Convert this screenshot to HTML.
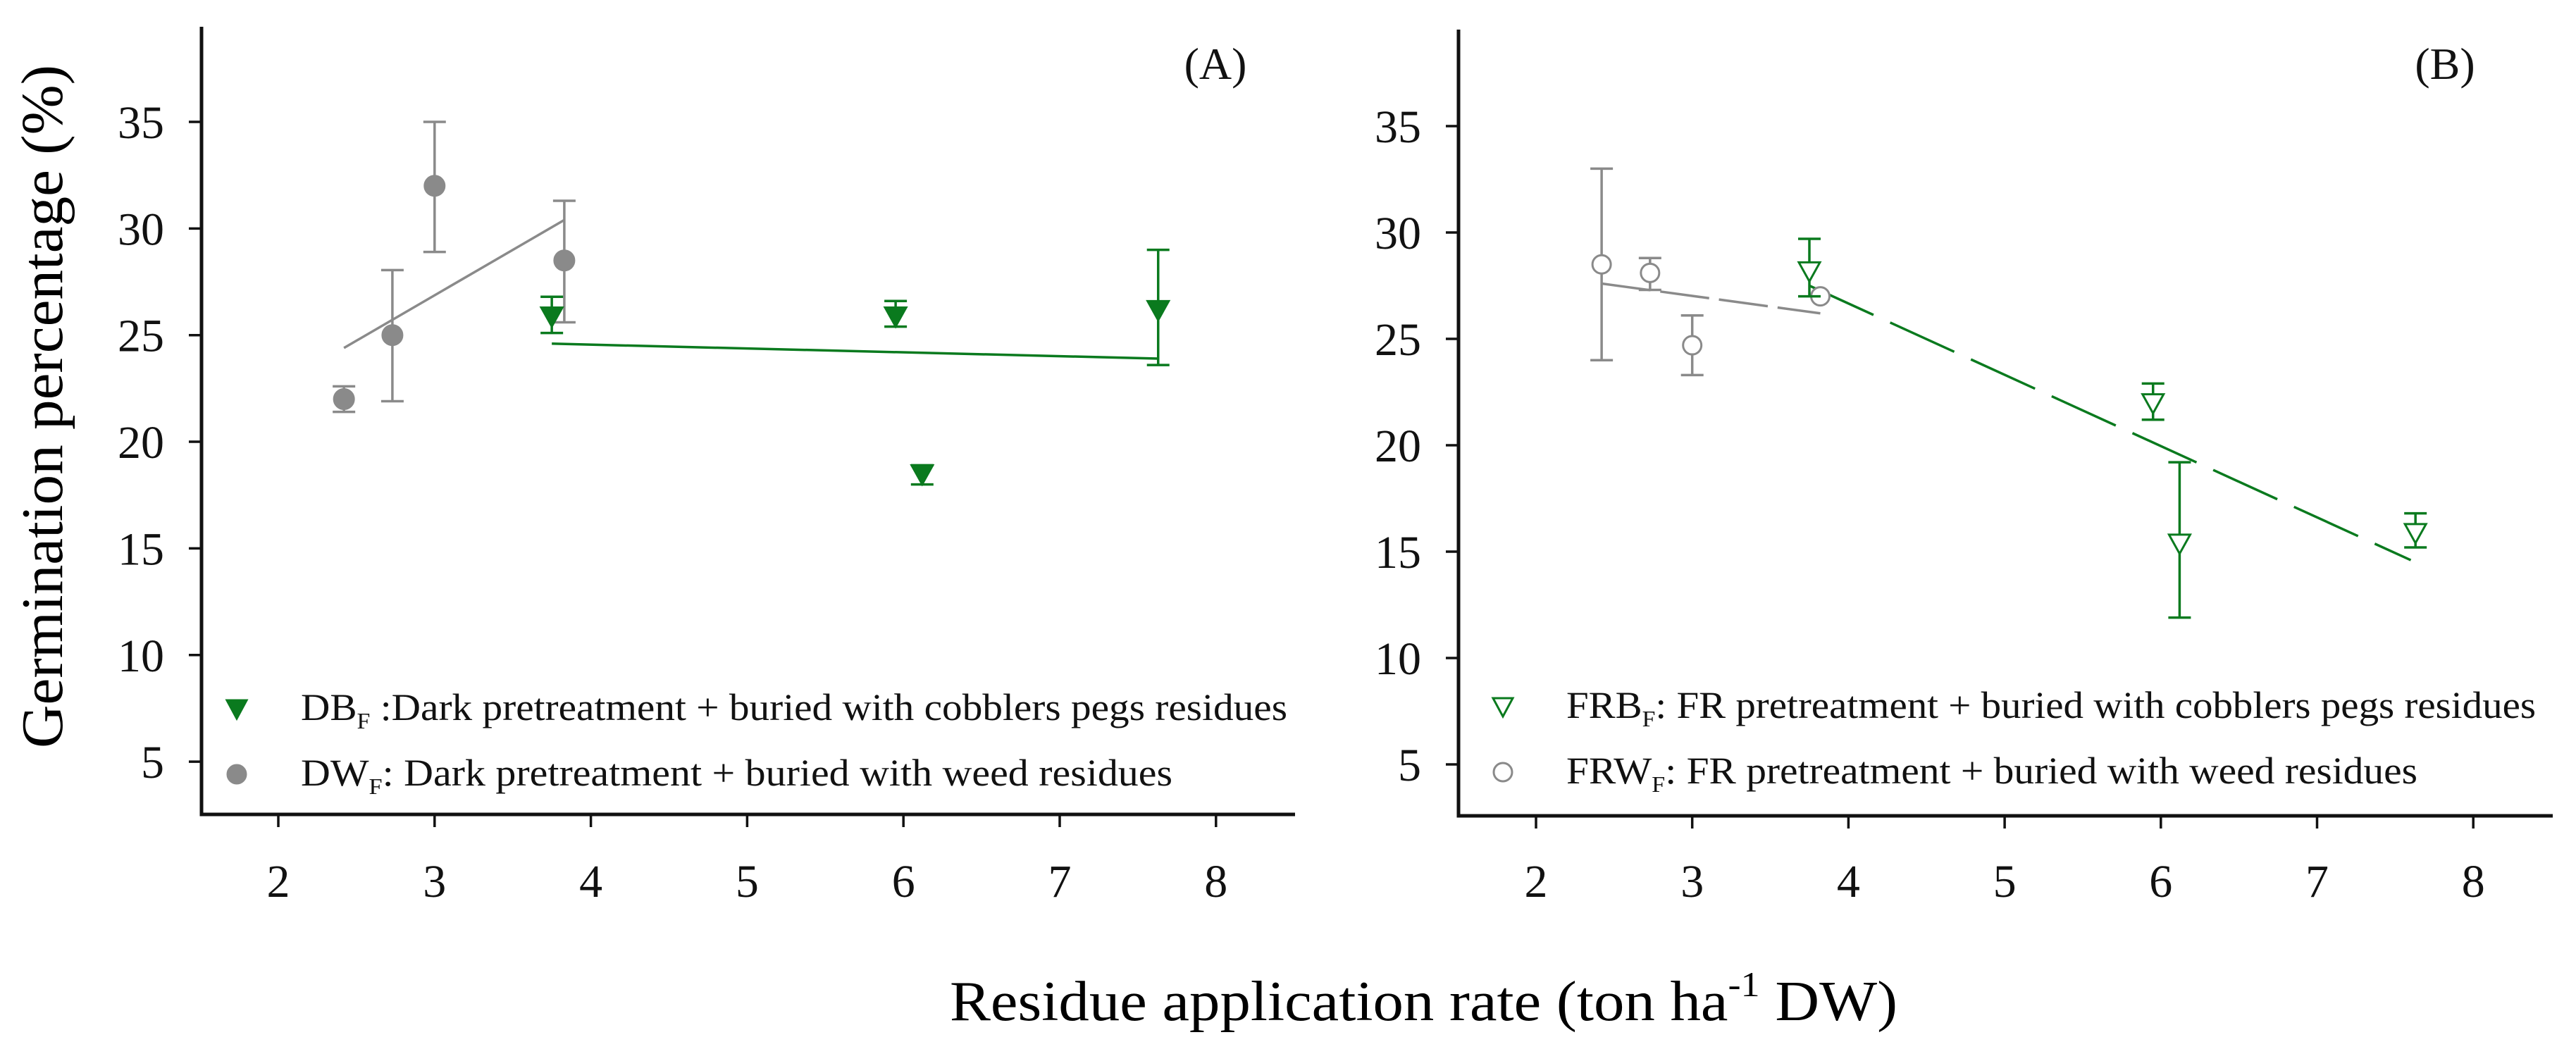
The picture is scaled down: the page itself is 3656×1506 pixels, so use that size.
<!DOCTYPE html>
<html><head><meta charset="utf-8"><style>
html,body{margin:0;padding:0;background:#fff;}
svg{display:block;font-family:"Liberation Serif",serif;}
</style></head>
<body>
<svg id="chart" width="3656" height="1506" viewBox="0 0 3656 1506" xmlns="http://www.w3.org/2000/svg">
<rect width="3656" height="1506" fill="#fff"/>
<text x="0" y="0" font-size="84" text-anchor="middle" textLength="970" lengthAdjust="spacingAndGlyphs" transform="translate(88,577) rotate(-90)">Germination percentage (%)</text>
<text x="1348" y="1448" font-size="80" textLength="1345" lengthAdjust="spacingAndGlyphs">Residue application rate (ton ha<tspan font-size="50" dy="-34">-1</tspan><tspan dy="34"> DW)</tspan></text>
<g id="panelA"></g>
<g id="panelB"></g>
</svg>
<script>
const xTicks=[2,3,4,5,6,7,8];
const yTicks=[5,10,15,20,25,30,35];
// Panel A
const dbX=[3.75,5.95,6.12,7.63];
const dbY=[25.9,25.9,18.5,26.2];
const dbHi=[26.8,26.6,18.9,29.0];
const dbLo=[25.1,25.4,18.0,23.6];
const dwX=[2.42,2.73,3.0,3.83];
const dwY=[22.0,25.0,32.0,28.5];
const dwHi=[22.6,28.05,35.0,31.3];
const dwLo=[21.4,21.9,28.9,25.6];
const dbFitX=[3.75,7.63];const dbFitY=[24.6,23.9];
const dwFitX=[2.42,3.83];const dwFitY=[24.4,30.4];
// Panel B
const frbX=[3.75,5.95,6.12,7.63];
const frbY=[28.2,22.0,15.4,15.9];
const frbHi=[29.7,22.9,19.2,16.8];
const frbLo=[27.0,21.2,11.9,15.2];
const frwX=[2.42,2.73,3.0,3.82];
const frwY=[28.5,28.1,24.7,27.0];
const frwHi=[33.0,28.8,26.1,27.0];
const frwLo=[24.0,27.3,23.3,27.0];
const frbFitX=[3.75,7.6];const frbFitY=[27.5,14.6];
const frwFitX=[2.42,3.82];const frwFitY=[27.6,26.2];

const NS="http://www.w3.org/2000/svg";
const GREEN="#0a7a1e", GRAY="#8a8a8a";
function mk(parent,tag,attrs){const e=document.createElementNS(NS,tag);for(const k in attrs)e.setAttribute(k,attrs[k]);parent.appendChild(e);return e;}

function panel(g,cfg){
  const sx=v=>cfg.x0+(v-2)*cfg.ux;
  const sy=v=>cfg.y35+(35-v)*cfg.uy;
  const ax=mk(g,'path',{d:`M${cfg.axL} ${cfg.top} V${cfg.bottom} H${cfg.axR}`,fill:'none',stroke:'#111','stroke-width':5});
  
  
  xTicks.forEach(t=>{
    const l=mk(g,'line',{x1:sx(t),x2:sx(t),y1:cfg.bottom,y2:cfg.bottom+18,stroke:'#111','stroke-width':3.5});
    
    
    const tx=mk(g,'text',{x:sx(t),y:1273,'font-size':66,'text-anchor':'middle',fill:'#111'});
    tx.textContent=t;
    
    
  });
  yTicks.forEach(t=>{
    const l=mk(g,'line',{x1:cfg.axL-18,x2:cfg.axL,y1:sy(t),y2:sy(t),stroke:'#111','stroke-width':3.5});
    
    
    const tx=mk(g,'text',{x:cfg.axL-53,y:sy(t)+23,'font-size':66,'text-anchor':'end',fill:'#111'});
    tx.textContent=t;
    
    
  });
  const lab=mk(g,'text',{x:cfg.labX,y:112,'font-size':64,'text-anchor':'middle',fill:'#111'});
  lab.textContent=cfg.label;
  
  
  cfg.fits.forEach(f=>{
    const l=mk(g,'line',{x1:sx(f.x[0]),y1:sy(f.y[0]),x2:sx(f.x[1]),y2:sy(f.y[1]),stroke:f.c,'stroke-width':3.5});
    if(f.dash)l.setAttribute('stroke-dasharray',f.dash);
    
    
  });
  cfg.series.forEach(s=>{
    s.x.forEach((xv,i)=>{
      const px=sx(xv);
      if(s.hi[i]!==s.lo[i]){
        const e=mk(g,'path',{d:`M${px} ${sy(s.hi[i])} V${sy(s.lo[i])} M${px-16} ${sy(s.hi[i])} h32 M${px-16} ${sy(s.lo[i])} h32`,stroke:s.c,'stroke-width':3.5,fill:'none'});
        
        
      }
      const py=sy(s.y[i]);
      let m;
      if(s.shape==='tri'){
        m=mk(g,'path',{d:`M${px-15} ${py-12} L${px+15} ${py-12} L${px} ${py+15} Z`,fill:s.fill?s.c:'#fff',stroke:s.c,'stroke-width':3});
      } else {
        m=mk(g,'circle',{cx:px,cy:py,r:s.fill?14:13,fill:s.fill?s.c:'#fff',stroke:s.c,'stroke-width':3});
      }
      
      
    });
  });
  cfg.legend.forEach((L,i)=>{
    const ly=cfg.legY+i*93;
    let m;
    if(L.shape==='tri') m=mk(g,'path',{d:`M${cfg.legMX-14} ${ly-12} L${cfg.legMX+14} ${ly-12} L${cfg.legMX} ${ly+14} Z`,fill:L.fill?L.c:'#fff',stroke:L.c,'stroke-width':3});
    else m=mk(g,'circle',{cx:cfg.legMX,cy:ly,r:13,fill:L.fill?L.c:'#fff',stroke:L.c,'stroke-width':3});
    
    
    const t=mk(g,'text',{x:cfg.legTX,y:ly+16,'font-size':54,fill:'#111',textLength:L.len,lengthAdjust:'spacingAndGlyphs'});
    
    
    const a=mk(t,'tspan',{});a.textContent=L.a;
    const b=mk(t,'tspan',{'font-size':32,dy:12});b.textContent='F';
    const c=mk(t,'tspan',{dy:-12});c.textContent=L.b;
  });
}

panel(document.getElementById('panelA'),{x0:395,ux:221.8,y35:173,uy:30.27,axL:286,axR:1838,top:38,bottom:1156,label:'(A)',labX:1725,
  legMX:336,legTX:427,legY:1006,
  fits:[{x:dwFitX,y:dwFitY,c:GRAY,name:'dw-fit-line'},{x:dbFitX,y:dbFitY,c:GREEN,name:'db-fit-line'}],
  series:[{x:dwX,y:dwY,hi:dwHi,lo:dwLo,c:GRAY,shape:'circle',fill:true,name:'dw-point'},
          {x:dbX,y:dbY,hi:dbHi,lo:dbLo,c:GREEN,shape:'tri',fill:true,name:'db-point'}],
  legend:[{shape:'tri',fill:true,c:GREEN,a:'DB',b:' :Dark pretreatment + buried with cobblers pegs residues',len:1400},
          {shape:'circle',fill:true,c:GRAY,a:'DW',b:': Dark pretreatment + buried with weed residues',len:1237}]});

panel(document.getElementById('panelB'),{x0:2180,ux:221.7,y35:179,uy:30.2,axL:2070,axR:3623,top:42,bottom:1158,label:'(B)',labX:3470,
  legMX:2133,legTX:2223,legY:1003,
  fits:[{x:frwFitX,y:frwFitY,c:GRAY,dash:'70 14',name:'frw-fit-line'},{x:frbFitX,y:frbFitY,c:GREEN,dash:'100 26',name:'frb-fit-line'}],
  series:[{x:frwX,y:frwY,hi:frwHi,lo:frwLo,c:GRAY,shape:'circle',fill:false,name:'frw-point'},
          {x:frbX,y:frbY,hi:frbHi,lo:frbLo,c:GREEN,shape:'tri',fill:false,name:'frb-point'}],
  legend:[{shape:'tri',fill:false,c:GREEN,a:'FRB',b:': FR pretreatment + buried with cobblers pegs residues',len:1376},
          {shape:'circle',fill:false,c:GRAY,a:'FRW',b:': FR pretreatment + buried with weed residues',len:1208}]});
</script>
</body></html>
